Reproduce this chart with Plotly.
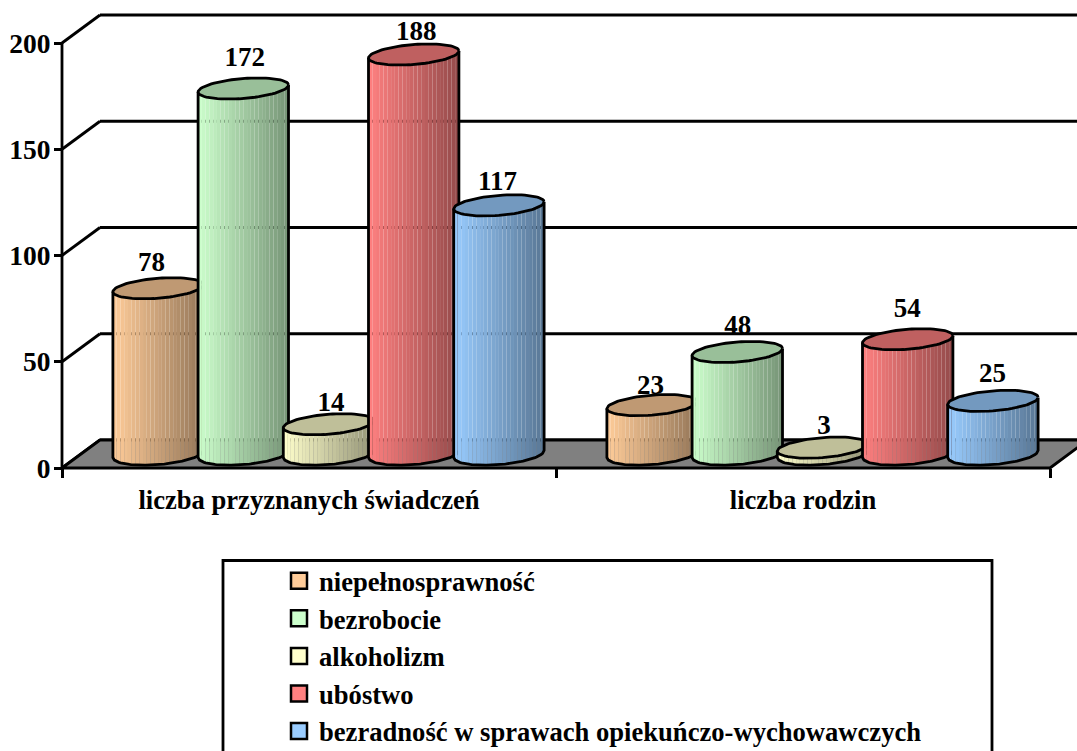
import math
import plotly.graph_objects as go

# ---- data ----
categories = ["liczba przyznanych świadczeń", "liczba rodzin"]
series_names = ["niepełnosprawność", "bezrobocie", "alkoholizm", "ubóstwo",
                "bezradność w sprawach opiekuńczo-wychowawczych"]
niepelnosprawnosc = [78, 23]
bezrobocie = [172, 48]
alkoholizm = [14, 3]
ubostwo = [188, 54]
bezradnosc = [117, 25]
y_ticks = [0, 50, 100, 150, 200]

# ---- styles / geometry (1 x unit = 1 px) ----
W, H = 1077, 751
series_values = [niepelnosprawnosc, bezrobocie, alkoholizm, ubostwo, bezradnosc]
series_rgb = [(255, 204, 153), (204, 255, 204), (255, 255, 204), (255, 128, 128), (153, 204, 255)]
Y0_PX, PX_PER_UNIT = 468.0, 2.125
X_LEFT, X_RIGHT = 62, 1050
DEPTH_X, DEPTH_Y = 38, 28 / PX_PER_UNIT
CAT_CENTERS = [(X_LEFT + (X_RIGHT - X_LEFT) * (i + 0.5) / 2) for i in range(2)]
SPACING = 85.2
R_X, TILT, R_Y = 45.2, 3.5 / PX_PER_UNIT, 10.6 / PX_PER_UNIT
STRIPS = 24
FONT = "Liberation Serif"
LW = 2.8
label_nudge = [[-6.5, 1.5, 2.5, 2.5, -1.5], [-1.5, 0.5, 1.5, -0.5, -0.5]]  # label x tweak
label_lift = [[24, 29, 20, 21, 22], [18, 25, 20, 29, 26]]  # label height over the cap, px

yr = [(Y0_PX - H) / PX_PER_UNIT, Y0_PX / PX_PER_UNIT]


def shade(rgb, f):
    return "rgb(%d,%d,%d)" % tuple(round(c * f) for c in rgb)


def arc_y(u):
    """vertical offset (data units) of the front arc of the tilted ellipse, u in [-1,1]"""
    return TILT * u - R_Y * math.sqrt(max(0, 1 - u * u))


fig = go.Figure()

# walls & floor
shapes = []
def seg(x0, y0, x1, y1):
    shapes.append(dict(type="line", xref="x", yref="y", x0=x0, y0=y0, x1=x1, y1=y1,
                       line=dict(color="black", width=LW), layer="below"))

fig.add_trace(go.Scatter(
    x=[X_LEFT, X_LEFT + DEPTH_X, X_RIGHT + DEPTH_X, X_RIGHT, X_LEFT],
    y=[0, DEPTH_Y, DEPTH_Y, 0, 0], mode="lines", fill="toself", fillcolor="#808080",
    line=dict(color="black", width=LW), hoverinfo="skip", showlegend=False))
for t in y_ticks:
    seg(X_LEFT, t, X_LEFT + DEPTH_X, t + DEPTH_Y)
    seg(X_LEFT + DEPTH_X, t + DEPTH_Y, X_RIGHT + DEPTH_X, t + DEPTH_Y)
seg(X_LEFT, y_ticks[0], X_LEFT, y_ticks[-1])

# cylinders
label_x, label_y, label_t = [], [], []
for c, center in enumerate(CAT_CENTERS):
    for s, vals in enumerate(series_values):
        v = vals[c]
        rgb = series_rgb[s]
        cx = center + DEPTH_X / 2 + (s - 2) * SPACING + 0.5
        base = DEPTH_Y / 2
        top = base + v
        for k in range(STRIPS):
            u0 = -1 + 2 * k / STRIPS
            u1 = -1 + 2 * (k + 1) / STRIPS
            us = [u0 + (u1 - u0) * j / 3 for j in range(4)]
            xs = [cx + R_X * u for u in us]
            f = 1.0 - 0.42 * ((k + 0.5) / STRIPS)
            fig.add_trace(go.Scatter(
                x=xs + xs[::-1] + [xs[0]],
                y=[base + arc_y(u) for u in us] + [top + arc_y(u) for u in us[::-1]] + [base + arc_y(us[0])],
                mode="lines", line=dict(width=0), fill="toself", fillcolor=shade(rgb, f),
                hoverinfo="skip", showlegend=False))
        # silhouette
        us = [-1 + 2 * j / 60 for j in range(61)]
        fig.add_trace(go.Scatter(
            x=[cx - R_X] + [cx + R_X * u for u in us] + [cx + R_X],
            y=[top - TILT] + [base + arc_y(u) for u in us] + [top + TILT],
            mode="lines", line=dict(color="black", width=LW), hoverinfo="skip", showlegend=False))
        # cap
        ts = [2 * math.pi * j / 72 for j in range(73)]
        fig.add_trace(go.Scatter(
            x=[cx + R_X * math.cos(t) for t in ts],
            y=[top + TILT * math.cos(t) + R_Y * math.sin(t) * (1 - (TILT / R_Y) ** 2) ** 0.5 for t in ts],
            mode="lines", fill="toself", fillcolor=shade(rgb, 0.75),
            line=dict(color="black", width=LW), hoverinfo="skip", showlegend=False))
        label_x.append(cx + label_nudge[c][s])
        label_y.append(top + label_lift[c][s] / PX_PER_UNIT)
        label_t.append(str(v))

# data labels
fig.add_trace(go.Scatter(x=label_x, y=label_y, text=label_t, mode="text", textposition="middle center",
                         textfont=dict(family=FONT, size=27, color="black", weight="bold"),
                         hoverinfo="skip", showlegend=False))

# legend entries
for name, rgb in zip(series_names, series_rgb):
    fig.add_trace(go.Scatter(x=[None], y=[None], mode="markers", name=name, legendgroup=name,
                             marker=dict(symbol="square", size=16, color=shade(rgb, 1),
                                         line=dict(color="black", width=2.5))))

# legend frame
shapes.append(dict(type="rect", xref="x", yref="paper", x0=223, x1=992, y0=-0.02, y1=(H - 560.5) / H,
                   line=dict(color="black", width=LW), fillcolor="white", layer="below"))

fig.update_layout(
    width=W, height=H, autosize=False, margin=dict(l=0, r=0, t=0, b=0, autoexpand=False),
    paper_bgcolor="white", plot_bgcolor="rgba(0,0,0,0)", shapes=shapes,
    font=dict(family=FONT, color="black"),
    legend=dict(x=279 / W, y=1 - 557 / H, xanchor="left", yanchor="top", bgcolor="rgba(0,0,0,0)",
                borderwidth=0, tracegroupgap=11, itemsizing="trace", traceorder="normal",
                font=dict(family=FONT, size=26.6, color="black", weight="bold")),
    xaxis=dict(range=[0, W], anchor="free", position=(H - Y0_PX) / H, showgrid=False, zeroline=False,
               showline=False, tickmode="array", tickvals=CAT_CENTERS, ticktext=categories,
               ticks="", ticklabelstandoff=13,
               tickfont=dict(family=FONT, size=26.6, color="black", weight="bold"),
               minor=dict(tickmode="array", tickvals=[X_LEFT, (X_LEFT + X_RIGHT) / 2, X_RIGHT],
                          ticks="outside", ticklen=9, tickwidth=LW, tickcolor="black", showgrid=False)),
    yaxis=dict(range=yr, anchor="free", position=X_LEFT / W, showgrid=False, zeroline=False, showline=False,
               tickmode="array", tickvals=y_ticks, ticktext=[str(t) for t in y_ticks],
               ticks="outside", ticklen=8, tickwidth=LW, tickcolor="black", ticklabelstandoff=-2,
               tickfont=dict(family=FONT, size=27.5, color="black", weight="bold")),
)

fig.write_html("out.html", post_script="document.body.style.margin='0';",
               config=dict(displayModeBar=False))
